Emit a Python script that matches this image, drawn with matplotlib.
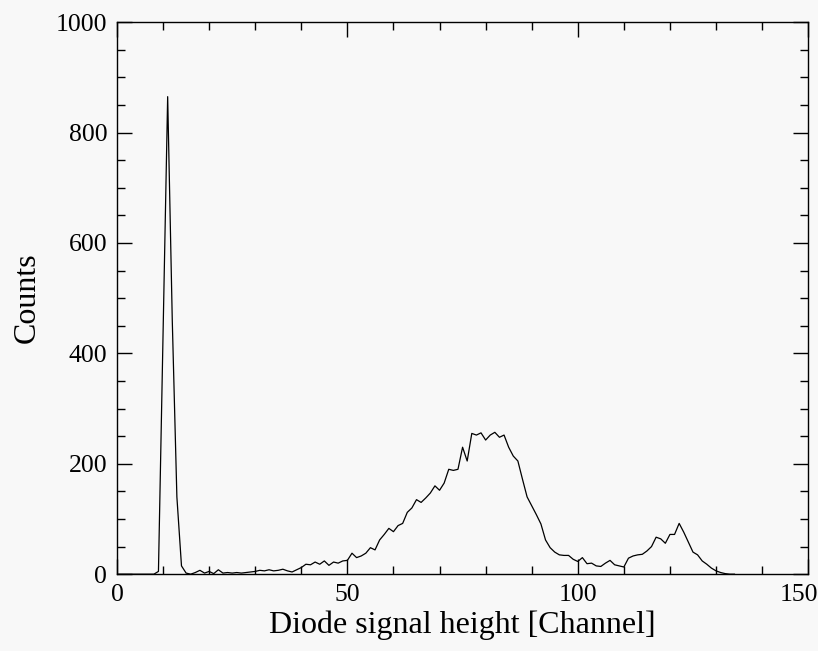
import numpy as np
import matplotlib
matplotlib.use("Agg")
import matplotlib.pyplot as plt
from matplotlib.ticker import MultipleLocator

# Espectro (canal -> cuentas)
canal = np.arange(0, 135)
cuentas = [
    0, 0, 0, 0, 0, 0, 0, 0, 0, 5,            # 0-9
    430, 865, 460, 140, 15, 2, 0, 3, 7, 2,   # 10-19
    5, 1, 8, 2, 3, 2, 3, 2, 3, 4,            # 20-29
    5, 7, 6, 8, 6, 7, 9, 6, 4, 8,            # 30-39
    12, 18, 17, 22, 18, 24, 16, 22, 20, 24,  # 40-49
    25, 38, 30, 33, 38, 48, 44, 62, 72, 83,  # 50-59
    77, 88, 92, 112, 120, 135, 130, 138, 147, 160,  # 60-69
    152, 165, 190, 188, 190, 230, 205, 255, 252, 256,  # 70-79
    243, 252, 257, 248, 252, 230, 214, 205, 172, 140,  # 80-89
    124, 108, 91, 62, 48, 40, 35, 34, 34, 27,  # 90-99
    23, 30, 19, 20, 15, 14, 20, 25, 17, 15,  # 100-109
    13, 29, 33, 35, 36, 42, 50, 67, 64, 56,  # 110-119
    72, 72, 92, 76, 58, 40, 35, 24, 18, 11,  # 120-129
    6, 3, 1, 0, 0,                           # 130-134
]
xticks = [0, 50, 100, 150]
xtick_labels = ["0", "50", "100", "150"]

fondo = "#f8f8f8"
plt.rcParams["font.family"] = ["Liberation Serif", "DejaVu Serif"]

fig = plt.figure(figsize=(8.18, 6.51), dpi=100)
fig.patch.set_facecolor(fondo)
ax = fig.add_axes([0.143, 0.118, 0.845, 0.848])
ax.set_facecolor(fondo)

ax.plot(canal, cuentas, color="black", linewidth=0.9)

ax.set_xlim(0, 150)
ax.set_ylim(0, 1000)
# la ultima etiqueta (150) va pegada al borde derecho, se pone aparte
ax.set_xticks(xticks, xtick_labels[:-1] + [""])
ax.xaxis.set_minor_locator(MultipleLocator(10))
ax.yaxis.set_major_locator(MultipleLocator(200))
ax.yaxis.set_minor_locator(MultipleLocator(50))
ax.tick_params(which="both", direction="in", top=True, right=True,
               width=1.0, color="black", labelsize=18.5)
ax.tick_params(which="major", length=11, pad=7)
ax.tick_params(which="minor", length=6)
for s in ax.spines.values():
    s.set_linewidth(1.0)

ax.annotate(xtick_labels[-1], xy=(xticks[-1], 0),
            xycoords=("data", "axes fraction"),
            xytext=(7, -7), textcoords="offset points",
            ha="right", va="top", fontsize=18.5)

ax.set_xlabel("Diode signal height [Channel]", fontsize=23, labelpad=3)
ax.set_ylabel("Counts", fontsize=23, labelpad=10)

plt.savefig("out.png", dpi=100, facecolor=fondo)
plt.close()
